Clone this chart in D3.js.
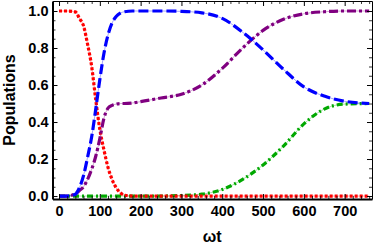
<!DOCTYPE html>
<html lang="en">
<head>
  <meta charset="UTF-8">
  <title>Populations vs ωt</title>
  <script src="https://d3js.org/d3.v7.min.js"></script>
  <style>
    body {
      margin: 0;
      background: white;
      font-family: "Liberation Sans", Arial, sans-serif;
    }
    .tick text {
      font-size: 14.5px;
      font-weight: bold;
      fill: black;
    }
    .axis-label {
      font-size: 16px;
      font-weight: bold;
    }
  </style>
</head>
<body>
  <div id="chart"></div>

  <script>
    // time samples (ωt) and populations
    const times = [0, 20, 40, 50, 60, 70, 80, 90, 100, 110, 120, 130, 140, 150, 160, 180, 200,
                   250, 300, 350, 400, 450, 500, 550, 600, 650, 700, 760];
    const redPop = [1, 1, 0.995, 0.96, 0.92, 0.82, 0.70, 0.52, 0.36, 0.25, 0.155, 0.09, 0.045, 0.018, 0.005, 0, 0,
                    0, 0, 0, 0, 0, 0, 0, 0, 0, 0, 0];
    const bluePop = [0, 0, 0.01, 0.045, 0.11, 0.21, 0.32, 0.47, 0.63, 0.77, 0.87, 0.935, 0.97, 0.988, 0.996, 1, 1,
                     1, 0.998, 0.99, 0.96, 0.885, 0.79, 0.685, 0.59, 0.54, 0.512, 0.5];
    const purplePop = [0, 0, 0.012, 0.03, 0.05, 0.09, 0.145, 0.215, 0.31, 0.42, 0.475, 0.49, 0.497, 0.5, 0.5, 0.503, 0.51,
                       0.53, 0.55, 0.60, 0.69, 0.80, 0.895, 0.955, 0.985, 0.996, 1, 1];
    const greenPop = [0, 0, 0, 0, 0, 0, 0, 0, 0, 0, 0, 0, 0, 0, 0, 0, 0,
                      0, 0.003, 0.01, 0.035, 0.09, 0.168, 0.27, 0.39, 0.47, 0.497, 0.5];

    const xTicks = [0, 100, 200, 300, 400, 500, 600, 700];
    const yTicks = [0, 0.2, 0.4, 0.6, 0.8, 1.0];

    const width = 374;
    const height = 246;
    const margin = { top: 1, right: 2, bottom: 47, left: 52.5 };

    const svg = d3.select("#chart")
      .append("svg")
      .attr("width", width)
      .attr("height", height);

    const x = d3.scaleLinear()
      .domain([-16, 767])
      .range([margin.left, width - margin.right]);

    const y = d3.scaleLinear()
      .domain([-0.016, 1.054])
      .range([height - margin.bottom, margin.top]);

    const xMinor = d3.range(0, 761, 20).filter(v => v % 100 !== 0);
    const yMinor = d3.range(0, 21).map(i => i * 0.05).filter((v, i) => i % 4 !== 0);

    // clip the curves to the frame
    svg.append("clipPath")
      .attr("id", "clip")
      .append("rect")
      .attr("x", margin.left)
      .attr("y", margin.top)
      .attr("width", width - margin.left - margin.right)
      .attr("height", height - margin.top - margin.bottom);

    const series = [
      { name: "green", values: greenPop, color: "#00a800", dash: "6,3,2,3" },
      { name: "red", values: redPop, color: "#ff0000", dash: "3,2" },
      { name: "purple", values: purplePop, color: "#800080", dash: "9,3,3,3" },
      { name: "blue", values: bluePop, color: "#0000ff", dash: "10,4" }
    ];

    const line = d3.line()
      .x(d => x(d[0]))
      .y(d => y(d[1]))
      .curve(d3.curveMonotoneX);

    const curves = svg.append("g").attr("clip-path", "url(#clip)");

    series.forEach(s => {
      const pts = times.map((t, i) => [t, s.values[i]]);
      curves.append("path")
        .datum(pts)
        .attr("d", line)
        .attr("fill", "none")
        .attr("stroke", s.color)
        .attr("stroke-width", 3.2)
        .attr("stroke-dasharray", s.dash);
      // thin light trace through the dashes
      curves.append("path")
        .datum(pts)
        .attr("d", line)
        .attr("fill", "none")
        .attr("stroke", s.color)
        .attr("stroke-opacity", 0.45)
        .attr("stroke-width", 0.8);
    });

    const bottomY = height - margin.bottom;
    const rightX = width - margin.right;

    // minor ticks on all four sides
    function minorAxis(axis, transform) {
      svg.append("g")
        .attr("transform", transform)
        .call(axis.tickSize(-3).tickSizeOuter(0).tickFormat(""))
        .call(g => g.select(".domain").remove())
        .selectAll("line").attr("stroke", "black").attr("stroke-width", 0.8);
    }
    minorAxis(d3.axisBottom(x).tickValues(xMinor), `translate(0,${bottomY})`);
    minorAxis(d3.axisTop(x).tickValues(xMinor), `translate(0,${margin.top})`);
    minorAxis(d3.axisLeft(y).tickValues(yMinor), `translate(${margin.left},0)`);
    minorAxis(d3.axisRight(y).tickValues(yMinor), `translate(${rightX},0)`);

    // top and right frame
    svg.append("g")
      .attr("transform", `translate(0,${margin.top})`)
      .call(d3.axisTop(x).tickValues(xTicks).tickSize(-5).tickSizeOuter(0).tickFormat(""))
      .call(g => g.selectAll("line, path").attr("stroke", "black").attr("stroke-width", 1));

    svg.append("g")
      .attr("transform", `translate(${rightX},0)`)
      .call(d3.axisRight(y).tickValues(yTicks).tickSize(-5).tickSizeOuter(0).tickFormat(""))
      .call(g => g.selectAll("line, path").attr("stroke", "black").attr("stroke-width", 1));

    // bottom and left axes
    svg.append("g")
      .attr("transform", `translate(0,${bottomY})`)
      .call(d3.axisBottom(x).tickValues(xTicks).tickSize(-5).tickSizeOuter(0).tickPadding(6.5))
      .call(g => g.select(".domain").attr("stroke", "black").attr("stroke-width", 2))
      .call(g => g.selectAll(".tick line").attr("stroke", "black").attr("stroke-width", 1));

    svg.append("g")
      .attr("transform", `translate(${margin.left},0)`)
      .call(d3.axisLeft(y).tickValues(yTicks).tickSize(-5).tickSizeOuter(0).tickPadding(4)
        .tickFormat(d3.format(".1f")))
      .call(g => g.select(".domain").attr("stroke", "black").attr("stroke-width", 2))
      .call(g => g.selectAll(".tick line").attr("stroke", "black").attr("stroke-width", 1));

    svg.selectAll(".tick text").attr("font-family", null);

    // axis labels
    svg.append("text")
      .attr("class", "axis-label")
      .attr("transform", `translate(15,${(margin.top + bottomY) / 2}) rotate(-90)`)
      .attr("text-anchor", "middle")
      .text("Populations");

    svg.append("text")
      .attr("class", "axis-label")
      .attr("x", (margin.left + rightX) / 2)
      .attr("y", 242)
      .attr("text-anchor", "middle")
      .text("ωt");
  </script>
</body>
</html>
